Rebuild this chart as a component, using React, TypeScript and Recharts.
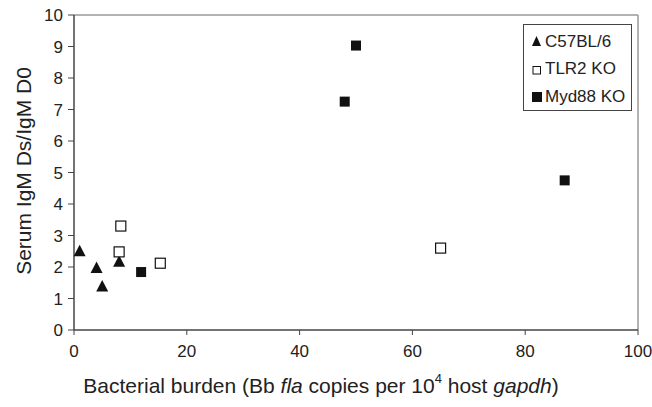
import {
  ScatterChart,
  Scatter,
  XAxis,
  YAxis,
  ReferenceLine,
} from "recharts";

const X_TICKS = [0, 20, 40, 60, 80, 100];
const Y_TICKS = [0, 1, 2, 3, 4, 5, 6, 7, 8, 9, 10];

const c57Burden = [1, 4, 5, 8];
const c57Ratio = [2.5, 1.97, 1.38, 2.17];

const tlr2Burden = [8.3, 8, 15.3, 65];
const tlr2Ratio = [3.3, 2.48, 2.12, 2.6];

const myd88Burden = [11.9, 48, 50, 87];
const myd88Ratio = [1.84, 7.25, 9.03, 4.75];

const toPoints = (xs: number[], ys: number[]) =>
  xs.map((x, i) => ({ x, y: ys[i] }));

const FONT = "'Liberation Sans', Arial, sans-serif";

const Triangle = ({ cx, cy }: any) => (
  <polygon
    points={`${cx},${cy - 6.5} ${cx - 6},${cy + 5} ${cx + 6},${cy + 5}`}
    fill="#111"
  />
);

const OpenSquare = ({ cx, cy }: any) => (
  <rect x={cx - 5} y={cy - 5} width={10} height={10} fill="#fff" stroke="#111" strokeWidth={1.2} />
);

const FilledSquare = ({ cx, cy }: any) => (
  <rect x={cx - 5} y={cy - 5} width={10} height={10} fill="#111" />
);

const legendItems = [
  { name: "C57BL/6", icon: <polygon points="5.5,1 1,11 10,11" fill="#111" /> },
  { name: "TLR2 KO", icon: <rect x={2} y={3.5} width={7.5} height={7.5} fill="#fff" stroke="#111" /> },
  { name: "Myd88 KO", icon: <rect x={1} y={2} width={10} height={10} fill="#111" /> },
];

// legend drawn as an overlay so it does not shrink the plot area
function LegendBox() {
  return (
    <div
      style={{
        position: "absolute",
        left: 523,
        top: 24,
        width: 100,
        height: 82,
        border: "1px solid #444",
        background: "#fff",
        padding: "3px 0 0 7px",
        fontFamily: FONT,
        fontSize: 17,
        color: "#222",
      }}
    >
      {legendItems.map((it) => (
        <div key={it.name} style={{ display: "flex", alignItems: "center", height: 27.5 }}>
          <svg width={12} height={13} style={{ marginRight: 2 }}>
            {it.icon}
          </svg>
          {it.name}
        </div>
      ))}
    </div>
  );
}

function XLabel() {
  return (
    <text
      x={321}
      y={393}
      textAnchor="middle"
      fontSize={21}
      fill="#222"
      fontFamily={FONT}
      style={{ whiteSpace: "pre" }}
    >
      <tspan>Bacterial burden (Bb </tspan>
      <tspan fontStyle="italic">fla</tspan>
      <tspan> copies per 10</tspan>
      <tspan dy={-10} fontSize={13}>4</tspan>
      <tspan dy={10}> host </tspan>
      <tspan fontStyle="italic">gapdh</tspan>
      <tspan>)</tspan>
    </text>
  );
}

function YLabel() {
  return (
    <text
      x={23}
      y={171}
      transform="rotate(-90 23 171)"
      textAnchor="middle"
      dominantBaseline="central"
      fontSize={21}
      fill="#222"
      fontFamily={FONT}
    >
      Serum IgM Ds/IgM D0
    </text>
  );
}

export default function App() {
  const tick = { fill: "#222", fontSize: 17, fontFamily: FONT };
  return (
    <div style={{ position: "absolute", left: 0, top: 0, background: "#fff" }}>
      <ScatterChart
        width={652}
        height={407}
        margin={{ top: 15, right: 14, bottom: 47, left: 44 }}
      >
        <XAxis
          type="number"
          dataKey="x"
          domain={[0, 100]}
          ticks={X_TICKS}
          tick={tick}
          tickSize={5}
          tickMargin={10}
          height={30}
          stroke="#444"
          axisLine={{ stroke: "#444", strokeWidth: 1.5 }}
          label={<XLabel />}
        />
        <YAxis
          type="number"
          dataKey="y"
          domain={[0, 10]}
          ticks={Y_TICKS}
          tick={tick}
          tickSize={6}
          tickMargin={5}
          width={30}
          stroke="#444"
          axisLine={{ stroke: "#444", strokeWidth: 1.5 }}
          label={<YLabel />}
        />
        <ReferenceLine y={10} stroke="#999" strokeWidth={1.5} />
        <ReferenceLine x={100} stroke="#999" strokeWidth={1.5} />
        <Scatter
          name="C57BL/6"
          data={toPoints(c57Burden, c57Ratio)}
          shape={Triangle}
          isAnimationActive={false}
        />
        <Scatter
          name="TLR2 KO"
          data={toPoints(tlr2Burden, tlr2Ratio)}
          shape={OpenSquare}
          isAnimationActive={false}
        />
        <Scatter
          name="Myd88 KO"
          data={toPoints(myd88Burden, myd88Ratio)}
          shape={FilledSquare}
          isAnimationActive={false}
        />
      </ScatterChart>
      <LegendBox />
    </div>
  );
}
